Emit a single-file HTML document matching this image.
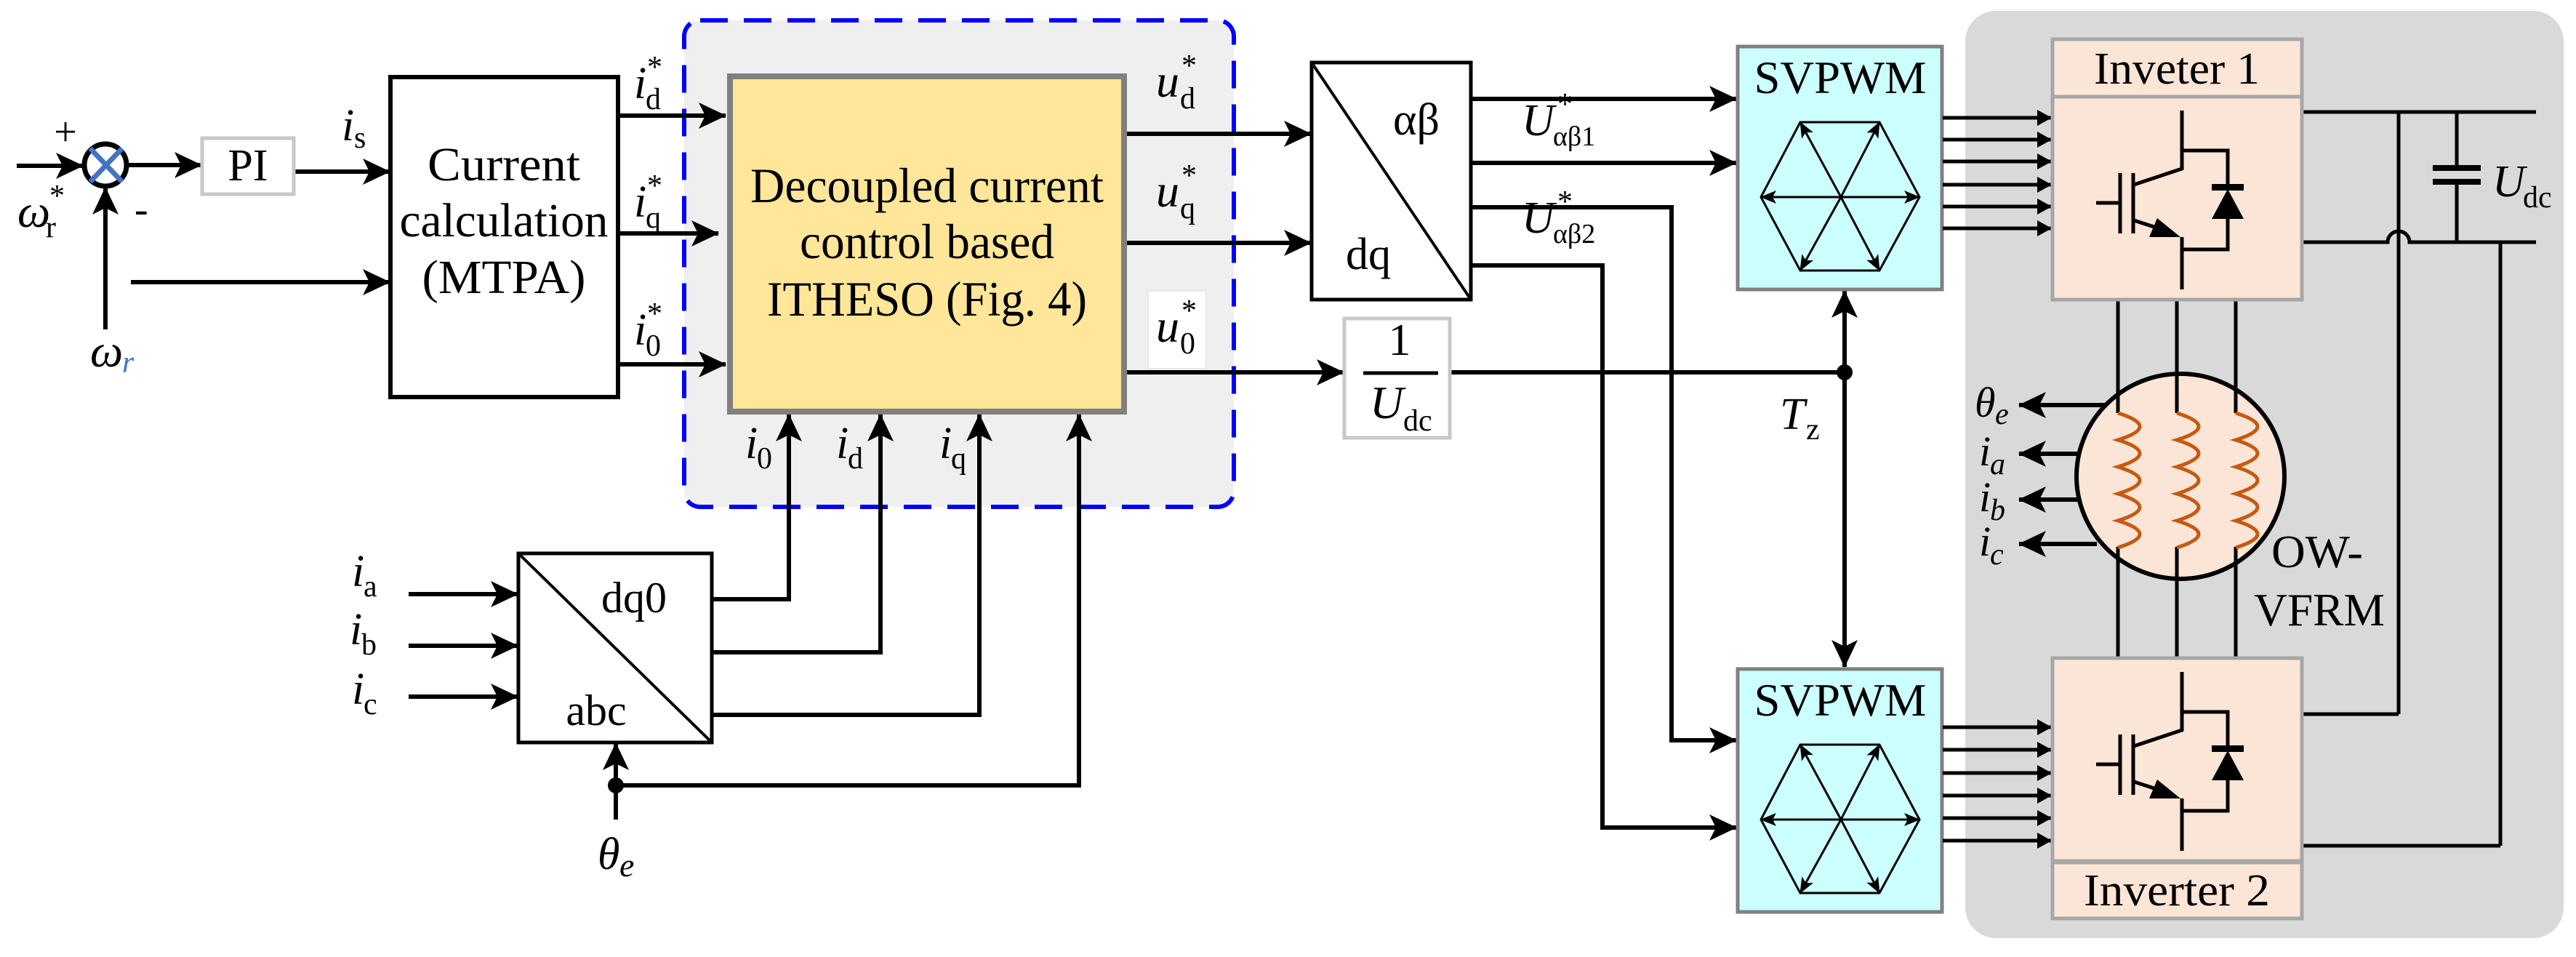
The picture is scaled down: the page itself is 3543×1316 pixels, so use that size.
<!DOCTYPE html>
<html><head><meta charset="utf-8"><style>
html,body{margin:0;padding:0;background:#fff;}
svg{display:block;font-family:"Liberation Serif","DejaVu Serif",serif;}
text{font-family:"Liberation Serif","DejaVu Serif",serif;fill:#000;}
</style></head><body>
<svg width="3543" height="1316" viewBox="0 0 3543 1316" xmlns="http://www.w3.org/2000/svg" font-family="'Liberation Serif', 'DejaVu Serif', serif">
<defs>
<marker id="a" viewBox="0 0 38 36" refX="37" refY="18" markerWidth="38" markerHeight="36" markerUnits="userSpaceOnUse" orient="auto"><path d="M0,0 L38,18 L0,36 L9,18z" fill="#000"/></marker>
<marker id="s" viewBox="0 0 22 18" refX="21" refY="9" markerWidth="22" markerHeight="18" markerUnits="userSpaceOnUse" orient="auto"><path d="M0,0 L22,9 L0,18 L5,9z" fill="#000"/></marker>
<marker id="g" viewBox="0 0 20 22" refX="20" refY="11" markerWidth="20" markerHeight="22" markerUnits="userSpaceOnUse" orient="auto"><path d="M0,0 L20,11 L0,22z" fill="#000"/></marker>
</defs>

<rect x="2703" y="15" width="823" height="1275" rx="42" fill="#d9d9d9"/>
<rect x="941" y="28" width="756" height="669" rx="22" fill="#efefef" stroke="#0000ff" stroke-width="6" stroke-dasharray="38,22"/>

<g stroke="#000" stroke-width="6" fill="none">
<line x1="23" y1="228" x2="114" y2="228" marker-end="url(#a)"/>
<line x1="145" y1="453" x2="145" y2="258" marker-end="url(#a)"/>
<line x1="176" y1="227" x2="277" y2="227" marker-end="url(#a)"/>
<line x1="406" y1="236" x2="536" y2="236" marker-end="url(#a)"/>
<line x1="180" y1="388" x2="536" y2="388" marker-end="url(#a)"/>
<line x1="850" y1="159" x2="998" y2="159" marker-end="url(#a)"/>
<line x1="850" y1="321" x2="988" y2="321" marker-end="url(#a)"/>
<line x1="850" y1="501" x2="998" y2="501" marker-end="url(#a)"/>
<line x1="1549" y1="184" x2="1803" y2="184" marker-end="url(#a)"/>
<line x1="1549" y1="334" x2="1803" y2="334" marker-end="url(#a)"/>
<line x1="1549" y1="512" x2="1848" y2="512" marker-end="url(#a)"/>
<line x1="562" y1="817" x2="712" y2="817" marker-end="url(#a)"/>
<line x1="562" y1="888" x2="712" y2="888" marker-end="url(#a)"/>
<line x1="562" y1="958" x2="712" y2="958" marker-end="url(#a)"/>
<polyline points="979,824 1085,824 1085,570" marker-end="url(#a)"/>
<polyline points="979,897 1211,897 1211,570" marker-end="url(#a)"/>
<polyline points="979,983 1347,983 1347,570" marker-end="url(#a)"/>
<polyline points="847,1080 1484,1080 1484,570" marker-end="url(#a)"/>
<line x1="847" y1="1127" x2="847" y2="1022" marker-end="url(#a)"/>
<line x1="2023" y1="136" x2="2388" y2="136" marker-end="url(#a)"/>
<line x1="2023" y1="224" x2="2388" y2="224" marker-end="url(#a)"/>
<polyline points="2023,285 2299,285 2299,1018 2388,1018" marker-end="url(#a)"/>
<polyline points="2023,365 2204,365 2204,1138 2388,1138" marker-end="url(#a)"/>
<line x1="1994" y1="512" x2="2537" y2="512"/>
<line x1="2537" y1="512" x2="2537" y2="400" marker-end="url(#a)"/>
<line x1="2537" y1="512" x2="2537" y2="917" marker-end="url(#a)"/>
</g>
<circle cx="2537" cy="512" r="11" fill="#000"/>
<circle cx="847" cy="1080" r="11" fill="#000"/>

<circle cx="145" cy="227" r="29" fill="#fff" stroke="#000" stroke-width="7"/>
<line x1="124" y1="204" x2="168" y2="250" stroke="#4472c4" stroke-width="7"/>
<line x1="168" y1="204" x2="124" y2="250" stroke="#4472c4" stroke-width="7"/>

<rect x="278" y="190" width="126" height="77" fill="#fff" stroke="#c8c8c8" stroke-width="5"/>
<text x="341" y="248" font-size="62" text-anchor="middle">PI</text>

<rect x="537" y="106" width="313" height="440" fill="#fff" stroke="#000" stroke-width="6"/>
<text x="693" y="248" font-size="66" text-anchor="middle" textLength="210" lengthAdjust="spacingAndGlyphs">Current</text>
<text x="693" y="325" font-size="66" text-anchor="middle" textLength="287" lengthAdjust="spacingAndGlyphs">calculation</text>
<text x="693" y="403" font-size="66" text-anchor="middle" textLength="225" lengthAdjust="spacingAndGlyphs">(MTPA)</text>

<rect x="1004" y="105" width="542" height="461" fill="#ffe699" stroke="#808080" stroke-width="8"/>
<text x="1275" y="278" font-size="68" text-anchor="middle" textLength="486" lengthAdjust="spacingAndGlyphs">Decoupled current</text>
<text x="1275" y="355" font-size="68" text-anchor="middle" textLength="350" lengthAdjust="spacingAndGlyphs">control based</text>
<text x="1275" y="434" font-size="68" text-anchor="middle" textLength="440" lengthAdjust="spacingAndGlyphs">ITHESO (Fig. 4)</text>
<rect x="1579" y="400" width="80" height="107" fill="#fff" stroke="#e8e8e8" stroke-width="2"/>

<rect x="713" y="761" width="266" height="260" fill="#fff" stroke="#000" stroke-width="5"/>
<line x1="713" y1="761" x2="979" y2="1021" stroke="#000" stroke-width="4"/>
<text x="872" y="842" font-size="60" text-anchor="middle">dq0</text>
<text x="820" y="997" font-size="60" text-anchor="middle">abc</text>

<rect x="1804" y="86" width="219" height="326" fill="#fff" stroke="#000" stroke-width="5"/>
<line x1="1804" y1="86" x2="2023" y2="412" stroke="#000" stroke-width="4"/>
<text x="1948" y="185" font-size="62" text-anchor="middle">αβ</text>
<text x="1882" y="370" font-size="62" text-anchor="middle">dq</text>

<rect x="1849" y="438" width="145" height="164" fill="#fff" stroke="#c8c8c8" stroke-width="5"/>
<text x="1925" y="488" font-size="62" text-anchor="middle">1</text>
<line x1="1875" y1="513" x2="1978" y2="513" stroke="#000" stroke-width="5"/>
<text x="1884" y="575" font-size="64" font-style="italic">U</text>
<text x="1930" y="592" font-size="42">dc</text>

<g id="sv1">
<rect x="2390" y="64" width="281" height="334" fill="#ccffff" stroke="#808080" stroke-width="5"/>
<text x="2531" y="128" font-size="64" text-anchor="middle" textLength="237" lengthAdjust="spacingAndGlyphs">SVPWM</text>
<polygon points="2422,271 2476,168 2585,168 2640,271 2585,372 2476,372" fill="none" stroke="#000" stroke-width="3"/>
<g stroke="#000" stroke-width="3">
<line x1="2532" y1="271" x2="2422" y2="271" marker-end="url(#s)"/>
<line x1="2532" y1="271" x2="2640" y2="271" marker-end="url(#s)"/>
<line x1="2532" y1="271" x2="2476" y2="168" marker-end="url(#s)"/>
<line x1="2532" y1="271" x2="2585" y2="168" marker-end="url(#s)"/>
<line x1="2532" y1="271" x2="2476" y2="372" marker-end="url(#s)"/>
<line x1="2532" y1="271" x2="2585" y2="372" marker-end="url(#s)"/>
</g>
</g>
<use href="#sv1" transform="translate(0,856)"/>

<g stroke="#000" stroke-width="5">
<line x1="2672" y1="162" x2="2822" y2="162" marker-end="url(#g)"/>
<line x1="2672" y1="192" x2="2822" y2="192" marker-end="url(#g)"/>
<line x1="2672" y1="222" x2="2822" y2="222" marker-end="url(#g)"/>
<line x1="2672" y1="254" x2="2822" y2="254" marker-end="url(#g)"/>
<line x1="2672" y1="284" x2="2822" y2="284" marker-end="url(#g)"/>
<line x1="2672" y1="314" x2="2822" y2="314" marker-end="url(#g)"/>
<line x1="2672" y1="1000" x2="2822" y2="1000" marker-end="url(#g)"/>
<line x1="2672" y1="1031" x2="2822" y2="1031" marker-end="url(#g)"/>
<line x1="2672" y1="1063" x2="2822" y2="1063" marker-end="url(#g)"/>
<line x1="2672" y1="1094" x2="2822" y2="1094" marker-end="url(#g)"/>
<line x1="2672" y1="1125" x2="2822" y2="1125" marker-end="url(#g)"/>
<line x1="2672" y1="1156" x2="2822" y2="1156" marker-end="url(#g)"/>
</g>

<ellipse cx="2999" cy="655" rx="143" ry="141" fill="#fbe5d6" stroke="#000" stroke-width="6"/>
<g stroke="#000" stroke-width="5">
<line x1="2913" y1="412" x2="2913" y2="568"/><line x1="2994" y1="412" x2="2994" y2="568"/><line x1="3075" y1="412" x2="3075" y2="568"/>
<line x1="2913" y1="752" x2="2913" y2="905"/><line x1="2994" y1="752" x2="2994" y2="905"/><line x1="3075" y1="752" x2="3075" y2="905"/>
</g>
<g stroke="#c55a11" stroke-width="5" fill="none">
<path d="M2913,568 q60,18.5 0,37 q60,18.5 0,37 q60,18.5 0,37 q60,18.5 0,37 q60,18.5 0,37"/>
<path d="M2994,568 q60,18.5 0,37 q60,18.5 0,37 q60,18.5 0,37 q60,18.5 0,37 q60,18.5 0,37"/>
<path d="M3075,568 q60,18.5 0,37 q60,18.5 0,37 q60,18.5 0,37 q60,18.5 0,37 q60,18.5 0,37"/>
</g>
<g stroke="#000" stroke-width="6">
<line x1="2898" y1="557" x2="2777" y2="557" marker-end="url(#a)"/>
<line x1="2858" y1="624" x2="2777" y2="624" marker-end="url(#a)"/>
<line x1="2858" y1="687" x2="2777" y2="687" marker-end="url(#a)"/>
<line x1="2884" y1="748" x2="2777" y2="748" marker-end="url(#a)"/>
</g>

<g stroke="#000" stroke-width="5" fill="none">
<line x1="3166" y1="154" x2="3488" y2="154"/>
<path d="M3166,333 H3284 A15,15 0 0 1 3314,333 H3488"/>
<line x1="3299" y1="154" x2="3299" y2="982"/>
<line x1="3299" y1="982" x2="3166" y2="982"/>
<line x1="3439" y1="333" x2="3439" y2="1163"/>
<line x1="3439" y1="1163" x2="3166" y2="1163"/>
<line x1="3379" y1="154" x2="3379" y2="231"/>
<line x1="3379" y1="250" x2="3379" y2="333"/>
</g>
<rect x="3346" y="227" width="66" height="8" fill="#000"/>
<rect x="3346" y="246" width="66" height="8" fill="#000"/>
<text x="3428" y="270" font-size="62" font-style="italic">U</text>
<text x="3470" y="285" font-size="42">dc</text>

<g id="inv1">
<rect x="2823" y="133" width="343" height="279" fill="#fbe5d6" stroke="#a6a6a6" stroke-width="5"/>
<g stroke="#000" stroke-width="5" fill="none">
<polyline points="3001,152 3001,232 2935,254"/>
<line x1="2916" y1="238" x2="2916" y2="321"/>
<line x1="2934" y1="238" x2="2934" y2="321"/>
<line x1="2883" y1="279" x2="2916" y2="279"/>
<line x1="2935" y1="303" x2="2975" y2="316"/>
<polyline points="3001,326 3001,398"/>
<polyline points="3001,207 3064,207 3064,257"/>
<polyline points="3064,300 3064,343 3001,343"/>
</g>
<path d="M2999,326 L2956,326 L2967,300z" fill="#000"/>
<rect x="3042" y="253" width="44" height="9" fill="#000"/>
<path d="M3064,260 L3086,301 L3042,301z" fill="#000"/>
</g>
<rect x="2823" y="54" width="343" height="79" fill="#fbe5d6" stroke="#a6a6a6" stroke-width="5"/>
<text x="2994" y="115" font-size="62" text-anchor="middle" textLength="228" lengthAdjust="spacingAndGlyphs">Inveter 1</text>
<use href="#inv1" transform="translate(0,772)"/>
<rect x="2823" y="1186" width="343" height="77" fill="#fbe5d6" stroke="#a6a6a6" stroke-width="5"/>
<text x="2994" y="1245" font-size="62" text-anchor="middle" textLength="256" lengthAdjust="spacingAndGlyphs">Inverter 2</text>

<text x="90" y="200" font-size="56" text-anchor="middle">+</text>
<text x="24" y="312" font-size="64" font-style="italic">ω</text>
<text x="63" y="326" font-size="42">r</text>
<text x="68" y="283" font-size="42">*</text>
<text x="185" y="306" font-size="56">-</text>
<text x="124" y="504" font-size="64" font-style="italic">ω</text>
<text x="168" y="512" font-size="42" font-style="italic" style="fill:#4472c4">r</text>

<text x="470" y="193" font-size="62" font-style="italic">i</text>
<text x="487" y="203" font-size="42">s</text>

<text x="872" y="135" font-size="62" font-style="italic">i</text>
<text x="888" y="150" font-size="42">d</text>
<text x="890" y="106" font-size="42">*</text>
<text x="872" y="298" font-size="62" font-style="italic">i</text>
<text x="888" y="313" font-size="42">q</text>
<text x="890" y="269" font-size="42">*</text>
<text x="872" y="474" font-size="62" font-style="italic">i</text>
<text x="888" y="489" font-size="42">0</text>
<text x="890" y="445" font-size="42">*</text>

<text x="1590" y="133" font-size="64" font-style="italic">u</text>
<text x="1623" y="149" font-size="42">d</text>
<text x="1625" y="104" font-size="42">*</text>
<text x="1590" y="284" font-size="64" font-style="italic">u</text>
<text x="1623" y="300" font-size="42">q</text>
<text x="1625" y="255" font-size="42">*</text>
<text x="1590" y="470" font-size="64" font-style="italic">u</text>
<text x="1623" y="486" font-size="42">0</text>
<text x="1625" y="441" font-size="42">*</text>

<text x="1025" y="630" font-size="62" font-style="italic">i</text>
<text x="1041" y="644" font-size="42">0</text>
<text x="1150" y="630" font-size="62" font-style="italic">i</text>
<text x="1166" y="644" font-size="42">d</text>
<text x="1292" y="630" font-size="62" font-style="italic">i</text>
<text x="1308" y="644" font-size="42">q</text>

<text x="484" y="806" font-size="62" font-style="italic">i</text>
<text x="500" y="820" font-size="42">a</text>
<text x="481" y="886" font-size="62" font-style="italic">i</text>
<text x="497" y="900" font-size="42">b</text>
<text x="484" y="968" font-size="62" font-style="italic">i</text>
<text x="500" y="982" font-size="42">c</text>

<text x="822" y="1195" font-size="62" font-style="italic">θ</text>
<text x="852" y="1205" font-size="46" font-style="italic">e</text>

<text x="2093" y="186" font-size="62" font-style="italic">U</text>
<text x="2136" y="200" font-size="38">αβ1</text>
<text x="2142" y="157" font-size="42">*</text>
<text x="2093" y="320" font-size="62" font-style="italic">U</text>
<text x="2136" y="334" font-size="38">αβ2</text>
<text x="2142" y="291" font-size="42">*</text>

<text x="2448" y="590" font-size="62" font-style="italic">T</text>
<text x="2484" y="604" font-size="42">z</text>

<text x="2716" y="573" font-size="58" font-style="italic">θ</text>
<text x="2744" y="583" font-size="42" font-style="italic">e</text>
<text x="2722" y="640" font-size="58" font-style="italic">i</text>
<text x="2737" y="652" font-size="42" font-style="italic">a</text>
<text x="2722" y="703" font-size="58" font-style="italic">i</text>
<text x="2737" y="715" font-size="42" font-style="italic">b</text>
<text x="2722" y="764" font-size="58" font-style="italic">i</text>
<text x="2737" y="776" font-size="42" font-style="italic">c</text>

<text x="3124" y="780" font-size="64" textLength="126" lengthAdjust="spacingAndGlyphs">OW-</text>
<text x="3100" y="860" font-size="64" textLength="180" lengthAdjust="spacingAndGlyphs">VFRM</text>
</svg>
</body></html>
